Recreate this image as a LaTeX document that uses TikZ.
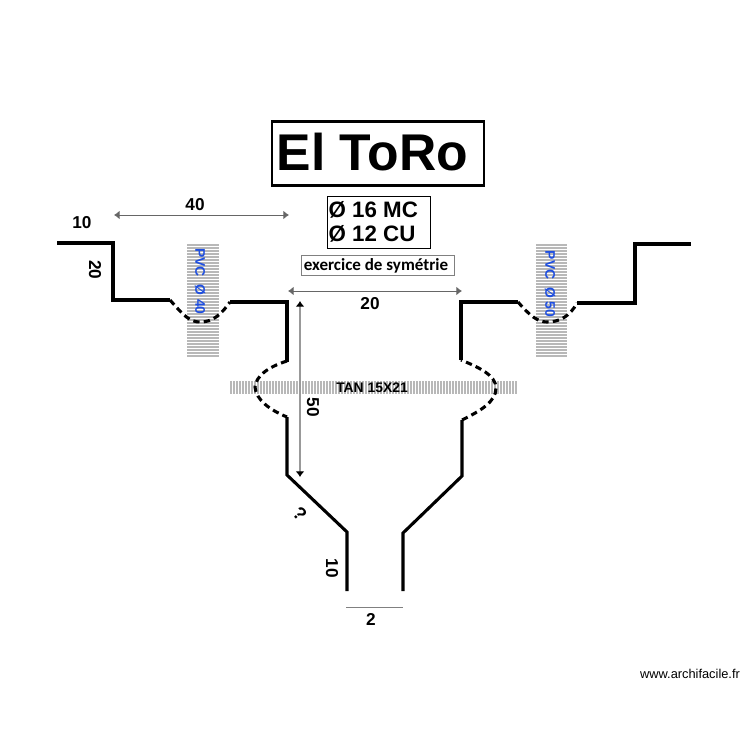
\documentclass[tikz,border=0pt]{standalone}
\usepackage{fontspec}
\setmainfont{Liberation Sans}
\newfontfamily\notefont{Carlito}
\usepackage{xcolor}
\usetikzlibrary{positioning,arrows.meta}
\definecolor{pvcblue}{HTML}{1F4FE0}
\tikzset{every picture/.style={line width=0.75pt}}
\tikzset{
  wall/.style={line width=1.75pt,line join=miter},
  buried/.style={line width=1.75pt,dash pattern=on 3.6pt off 2.4pt},
  hatch/.style={draw=black!28,line width=0.95pt},
  dimline/.style={draw=black!60,line width=0.55pt,{Latex[length=3.2pt,width=5pt]}-{Latex[length=3.2pt,width=5pt]},>=Latex},
  dimtext/.style={font=\bfseries\fontsize{9.8}{10}\selectfont,inner sep=0pt},
  pvctext/.style={font=\bfseries\fontsize{7.9}{8}\selectfont,text=pvcblue,inner sep=0pt,rotate=-90},
}
\begin{document}
\begin{tikzpicture}[x=0.02cm,y=-0.02cm]
\useasboundingbox (0,0) rectangle (750,750);
% hatched sleeves
\foreach \hy in {245,248,...,358} \draw[hatch] (187,\hy) -- (219,\hy);
\foreach \hy in {245,248,...,358} \draw[hatch] (536,\hy) -- (567,\hy);
\foreach \hx in {231,234,...,516} \draw[hatch] (\hx,381) -- (\hx,394);
%
\coordinate (d40a) at (114,215);
\coordinate (d40b) at (289,215);
\coordinate (d20a) at (288,291);
\coordinate (d20b) at (462,291);
\coordinate (d50a) at (300,301);
\coordinate (d50b) at (300,477);
\coordinate (d2a) at (346,607);
\coordinate (d2b) at (403,607);
\draw[dimline] (d40a) -- (d40b);
\draw[dimline] (d20a) -- (d20b);
\draw[dimline,draw=black!40,line width=0.8pt,{Latex[length=3.2pt,width=5pt,black]}-{Latex[length=3.2pt,width=5pt,black]}] (d50a) -- (d50b);
\draw[draw=black!50,line width=0.55pt] (d2a) -- (d2b);
% left wall
\draw[wall] (57,243) -- (113,243) -- (113,300) -- (170,300);
\draw[buried] (170,300) .. controls (184,316) and (190,322) .. (200,322) .. controls (212,322) and (220,316) .. (230,302);
\draw[wall] (230,302) -- (287,302) -- (287,362);
\draw[buried] (287,361) .. controls (268,367) and (256,376) .. (255,387) .. controls (256,400) and (270,410) .. (287,417);
\draw[wall] (287,417) -- (287,475) -- (347,532) -- (347,591);
% right wall
\draw[wall] (403,591) -- (403,533) -- (462,476) -- (462,420);
\draw[buried] (462,420) .. controls (480,411) and (496,402) .. (496,388) .. controls (496,375) and (478,367) .. (461,360);
\draw[wall] (461,360) -- (461,302) -- (518,302);
\draw[buried] (518,302) .. controls (530,316) and (538,322) .. (547,322) .. controls (560,322) and (570,316) .. (577,303);
\draw[wall] (577,303) -- (635,303) -- (635,244) -- (691,244);
% texts
\node[draw,line width=1.5pt,minimum width=120.7pt,minimum height=36.7pt,inner sep=0pt] (title) at (378,153.5) {};
\node[font=\bfseries\fontsize{29.4}{30}\selectfont,inner sep=0pt,anchor=west] (titletext) at (276,152) {El ToRo};
\node[draw,line width=0.6pt,minimum width=58.8pt,minimum height=30pt,inner sep=0pt] (wire) at (379,222.5) {};
\node[font=\bfseries\fontsize{12.7}{13.6}\selectfont,inner sep=0pt,anchor=west,align=left] (wiretext) at (328,222) {Ø 16 MC\\Ø 12 CU};
\node[draw=black!50,line width=0.6pt,minimum width=87pt,minimum height=11.9pt,inner sep=0pt] (note) at (378,265.5) {};
\node[font=\notefont\bfseries\fontsize{9.7}{11}\selectfont,inner sep=0pt] (notetext) at (376,266) {exercice de symétrie};
%
\node[dimtext] (w10) at (82,223) {10};
\node[dimtext] (w40) at (195,205) {40};
\node[dimtext,rotate=-90] (h20) at (95,270) {20};
\node[dimtext] (w20) at (370,304) {20};
\node[dimtext,rotate=-90] (h50) at (313,407) {50};
\node[dimtext,rotate=-90] (h10) at (332,568) {10};
\node[dimtext] (w2) at (371,619) {2};
\node[font=\bfseries\fontsize{10.5}{11}\selectfont,inner sep=0pt,rotate=-45] (slope) at (300,514) {?};
\node[pvctext] (pvc40) at (200,281.5) {PVC\ \ Ø 40};
\node[pvctext] (pvc50) at (550,284) {PVC\ \ Ø 50};
\node[font=\bfseries\fontsize{7.9}{8}\selectfont,inner sep=0pt] (tan) at (372,388) {TAN 15X21};
\node[font=\fontsize{7.3}{8}\selectfont,inner sep=0pt] (site) at (690,674) {www.archifacile.fr};
\end{tikzpicture}
\end{document}
